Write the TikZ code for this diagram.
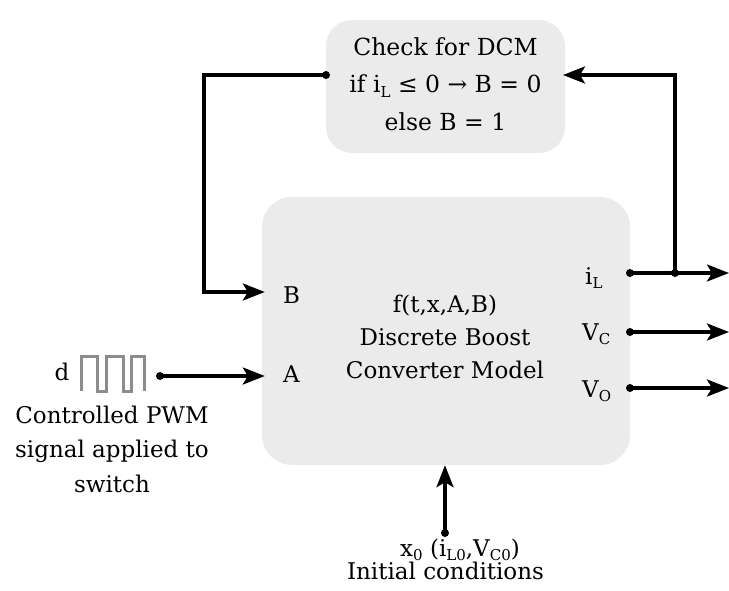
\documentclass[tikz,border=0pt]{standalone}
\usepackage{fontspec}
\setmainfont{DejaVu Serif}
\usetikzlibrary{arrows.meta}
\definecolor{boxgray}{HTML}{EBEBEB}
\definecolor{wavegray}{HTML}{8C8C8C}
\newcommand\sbx[1]{\raisebox{-0.4ex}{\fontsize{15}{15}\selectfont #1}}
\begin{document}
\begin{tikzpicture}[x=1pt,y=-1pt,
  blk/.style={draw=none,fill=boxgray,inner sep=0pt},
  lbl/.style={font=\fontsize{23}{27}\selectfont,inner sep=0pt},
  conn/.style={line width=3.2pt,-{Stealth[length=22pt,width=17pt,inset=5pt]}},
  dot/.style={circle,fill=black,inner sep=0pt,minimum size=8pt}]
\useasboundingbox (0,0) rectangle (729,590);

% boxes
\node[blk,rounded corners=26pt,minimum width=239pt,minimum height=133pt] (dcm) at (445.5,86.5) {};
\node[blk,rounded corners=30pt,minimum width=368pt,minimum height=268pt] (conv) at (446,331) {};

% texts (anchor=base is the baseline of the last line)
\node[lbl,align=center,font=\fontsize{23.5}{37.5}\selectfont,anchor=base] (dcmtxt) at (445.5,130) {Check for DCM\\if i\sbx{L} ≤ 0 → B = 0\\else B = 1};
\node[lbl,align=center,font=\fontsize{23}{33}\selectfont,anchor=base] (model) at (445,378) {f(t,x,A,B)\\Discrete Boost\\Converter Model};

\node[lbl,anchor=base west] (B) at (283,303) {B};
\node[lbl,anchor=base west] (A) at (283,382) {A};
\node[lbl,anchor=base west] (iL) at (585,284) {i\sbx{L}};
\node[lbl,anchor=base west] (Vc) at (582,340) {V\sbx{C}};
\node[lbl,anchor=base west] (Vo) at (582,397) {V\sbx{O}};

\node[lbl,anchor=base] (d) at (62,380) {d};
\node[lbl,align=center,font=\fontsize{23}{34.5}\selectfont,anchor=base] (pwmtxt) at (112,492) {Controlled PWM\\signal applied to\\switch};
\node[lbl,anchor=base] (x0) at (460,556) {x\sbx{0} (i\sbx{L0},V\sbx{C0})};
\node[lbl,anchor=base] (init) at (445.5,579) {Initial conditions};

% square wave
\draw[wavegray,line width=3pt] (81,391) -- (81,356) -- (97.3,356) -- (97.3,391) -- (106,391) -- (106,356) -- (123.3,356) -- (123.3,391) -- (131,391) -- (131,356) -- (144,356) -- (144,391);

% coordinates
\coordinate (pA) at (160,376);
\coordinate (oL) at (630,273);
\coordinate (oC) at (630,332);
\coordinate (oO) at (630,388);
\coordinate (eL) at (729,273);
\coordinate (eC) at (729,332);
\coordinate (eO) at (729,388);
\coordinate (jL) at (675,273);
\coordinate (dL) at (326,75);
\coordinate (rD) at (563,75);
\coordinate (pX) at (445,533);

% connectors
\draw[conn,shorten >=-3pt] (pA) -- (pA -| conv.west);
\node[dot] at (pA) {};
\draw[conn,shorten >=-3pt] (dL) -- (204,75) -- (204,292) -- (conv.west |- 0,292);
\node[dot] at (dL) {};
\draw[conn] (oL) -- (eL);
\draw[conn] (oC) -- (eC);
\draw[conn] (oO) -- (eO);
\node[dot] at (oL) {};
\node[dot] at (oC) {};
\node[dot] at (oO) {};
\draw[conn] (jL) -- (jL |- rD) -- (rD);
\node[dot] at (jL) {};
\draw[conn] (pX) -- (pX |- conv.south);
\node[dot] at (pX) {};
\end{tikzpicture}
\end{document}
